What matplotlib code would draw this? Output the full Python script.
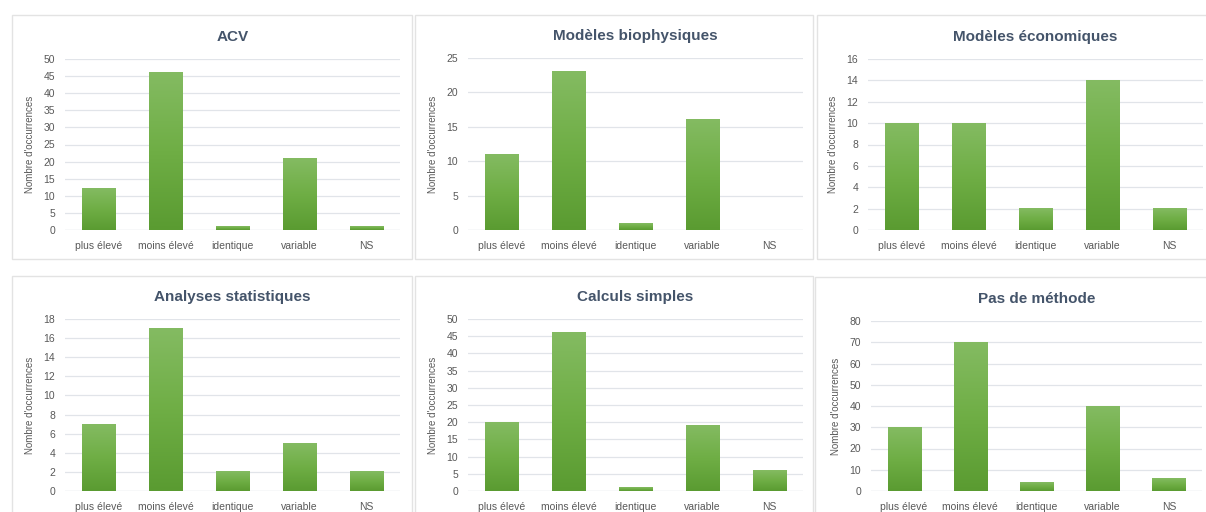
import numpy as np
import matplotlib
matplotlib.use('Agg')
import matplotlib.pyplot as plt
from matplotlib.colors import LinearSegmentedColormap
from matplotlib.patches import Rectangle

plt.rcParams['font.family'] = ['Liberation Sans', 'DejaVu Sans']

categories = ['plus élevé', 'moins élevé', 'identique', 'variable', 'NS']

titles = ['ACV', 'Modèles biophysiques', 'Modèles économiques',
          'Analyses statistiques', 'Calculs simples', 'Pas de méthode']

acv = [12, 46, 1, 21, 1]
biophysiques = [11, 23, 1, 16, 0]
economiques = [10, 10, 2, 14, 2]
statistiques = [7, 17, 2, 5, 2]
calculs = [20, 46, 1, 19, 6]
pas_methode = [30, 70, 4, 40, 6]

y_max = [50, 25, 16, 18, 50, 80]
y_step = [5, 5, 2, 2, 5, 10]

W, H = 1206, 512
TITLE_C = '#44546a'
TICK_C = '#595959'
GRID_C = '#e1e4e9'

# pixel boxes: panel border (x0, y0, x1, y1), plot area (x0, ytop, x1, ybottom)
panels = [(12, 15, 412, 259), (415, 15, 813, 259), (817, 15, 1210, 259),
          (12, 276, 412, 520), (415, 276, 813, 520), (815, 277, 1210, 520)]
plots = [(65, 59, 400, 230), (468, 58, 803, 230), (868, 59, 1203, 230),
         (65, 319, 400, 491), (468, 319, 803, 491), (871, 321, 1202, 491)]

cmap = LinearSegmentedColormap.from_list('grn', ['#5a9b31', '#6fae45', '#84bb62'])
grad = np.linspace(0, 1, 256).reshape(-1, 1)

fig = plt.figure(figsize=(W / 100, H / 100), dpi=100)
fig.patch.set_facecolor('white')

series = [acv, biophysiques, economiques, statistiques, calculs, pas_methode]

for i, vals in enumerate(series):
    bx0, by0, bx1, by1 = panels[i]
    fig.patches.append(Rectangle((bx0 / W, 1 - by1 / H), (bx1 - bx0) / W,
                                 (by1 - by0) / H, transform=fig.transFigure,
                                 facecolor='none', edgecolor='#e3e3e3', lw=1.0))
    px0, py0, px1, py1 = plots[i]
    ax = fig.add_axes([px0 / W, 1 - py1 / H, (px1 - px0) / W, (py1 - py0) / H])
    x = np.arange(len(categories))
    bars = ax.bar(x, vals, width=0.5, color='#6fae45', edgecolor='#f4f9f0',
                  linewidth=0.6, zorder=2)
    for b in bars:
        if b.get_height() <= 0:
            continue
        ax.imshow(grad, extent=[b.get_x(), b.get_x() + b.get_width(),
                                0, b.get_height()],
                  origin='lower', aspect='auto', cmap=cmap, zorder=2.1,
                  clip_path=b, clip_on=True)
    ax.set_xlim(-0.5, len(categories) - 0.5)
    ax.set_ylim(0, y_max[i])
    ax.set_yticks(np.arange(0, y_max[i] + 1, y_step[i]))
    ax.set_xticks(x)
    ax.set_xticklabels(categories)
    ax.yaxis.grid(True, color=GRID_C, linewidth=0.9, zorder=0)
    ax.set_axisbelow(True)
    for s in ax.spines.values():
        s.set_visible(False)
    ax.axhline(0, color=GRID_C, linewidth=0.9, zorder=1)
    ax.tick_params(length=0, colors=TICK_C, labelsize=7.5)
    ax.tick_params(axis='x', pad=8)
    ax.tick_params(axis='y', pad=7)
    ax.set_ylabel("Nombre d'occurrences", fontsize=7, color=TICK_C, labelpad=6)
    ax.set_title(titles[i], fontsize=11, fontweight='bold', color=TITLE_C,
                 pad=13)

fig.savefig('out.png', dpi=100, facecolor='white')
